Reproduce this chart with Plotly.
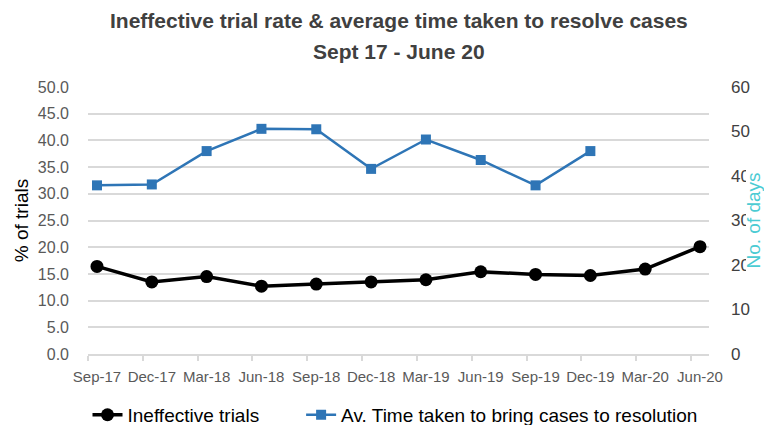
import plotly.graph_objects as go

quarters = ["Sep-17", "Dec-17", "Mar-18", "Jun-18", "Sep-18", "Dec-18",
            "Mar-19", "Jun-19", "Sep-19", "Dec-19", "Mar-20", "Jun-20"]
ineffective_pct = [16.4, 13.5, 14.5, 12.7, 13.1, 13.5, 13.9, 15.4, 14.9, 14.7, 15.9, 20.1]
days_to_resolve = [37.9, 38.1, 45.6, 50.6, 50.5, 41.6, 48.2, 43.6, 37.9, 45.6, None, None]

x = list(range(len(quarters)))
font = "Liberation Sans, Arial, sans-serif"
pad = "\u00a0" * 7  # widen the gap between the two legend entries

fig = go.Figure()

fig.add_trace(go.Scatter(x=x, y=ineffective_pct, name="Ineffective trials" + pad,
                         mode="lines+markers",
                         line=dict(color="black", width=3.5),
                         marker=dict(symbol="circle", size=13, color="black")))

fig.add_trace(go.Scatter(x=x, y=days_to_resolve, name="Av. Time taken to bring cases to resolution",
                         mode="lines+markers", yaxis="y2",
                         line=dict(color="#2E75B6", width=2.5),
                         marker=dict(symbol="square", size=10, color="#2E75B6")))

# two title lines, placed separately so the gap between them matches
cx = (399 - 88) / 621
fig.add_annotation(text="<b>Ineffective trial rate & average time taken to resolve cases</b>",
                   xref="paper", yref="paper", x=cx, y=1 + (87 - 20) / 267,
                   xanchor="center", yanchor="middle", showarrow=False,
                   font=dict(family=font, size=21, color="#404040"))
fig.add_annotation(text="<b>Sept 17 - June 20</b>",
                   xref="paper", yref="paper", x=cx, y=1 + (87 - 52) / 267,
                   xanchor="center", yanchor="middle", showarrow=False,
                   font=dict(family=font, size=21, color="#404040"))

# in the original the right axis title hides part of the tick labels
fig.add_shape(type="rect", xref="paper", yref="paper", layer="above",
              x0=(746 - 88) / 621, x1=(790 - 88) / 621,
              y0=(354 - 272) / 267, y1=(354 - 166) / 267,
              fillcolor="white", line=dict(width=0))
fig.add_annotation(text="No. of days", textangle=-90,
                   xref="paper", yref="paper", x=(753 - 88) / 621, y=0.5,
                   xanchor="center", yanchor="middle", showarrow=False,
                   font=dict(family=font, size=19, color="#4BCBD3"))

# the page body has an 8px margin, so the figure is 8px smaller than the window
fig.update_layout(
    width=764, height=417,
    margin=dict(l=80, r=63, t=79, b=71, autoexpand=False),
    paper_bgcolor="white", plot_bgcolor="white",
    showlegend=True,
    legend=dict(orientation="h", x=(395 - 88) / 621, xanchor="center",
                y=-0.228, yanchor="middle",
                font=dict(family=font, size=19, color="black"),
                bgcolor="rgba(0,0,0,0)"),
    xaxis=dict(range=[-0.164, 11.164], tickmode="array", tickvals=x, ticktext=quarters,
               tickangle=0, automargin=False, ticklabelstandoff=8,
               showgrid=False, zeroline=False, ticks="",
               showline=True, linecolor="#D9D9D9", linewidth=1.5,
               tickfont=dict(family=font, size=15, color="#595959"),
               minor=dict(tickmode="array", tickvals=[i - 0.164 for i in x],
                          ticks="outside", ticklen=5, tickcolor="#D9D9D9", tickwidth=1.5,
                          showgrid=False)),
    yaxis=dict(range=[0, 50], dtick=5, tickformat=".1f", automargin=False,
               showgrid=True, gridcolor="#D9D9D9", gridwidth=1.5,
               zeroline=False, showline=False, ticks="",
               ticklabelstandoff=18,
               tickfont=dict(family=font, size=16, color="#595959"),
               title=dict(text="% of trials", standoff=4,
                          font=dict(family=font, size=19, color="black"))),
    yaxis2=dict(range=[0, 60], dtick=10, overlaying="y", side="right", automargin=False,
                showgrid=False, zeroline=False, showline=False, ticks="",
                ticklabelstandoff=21,
                tickfont=dict(family=font, size=17, color="#404040")),
)

fig.write_html("out.html")
